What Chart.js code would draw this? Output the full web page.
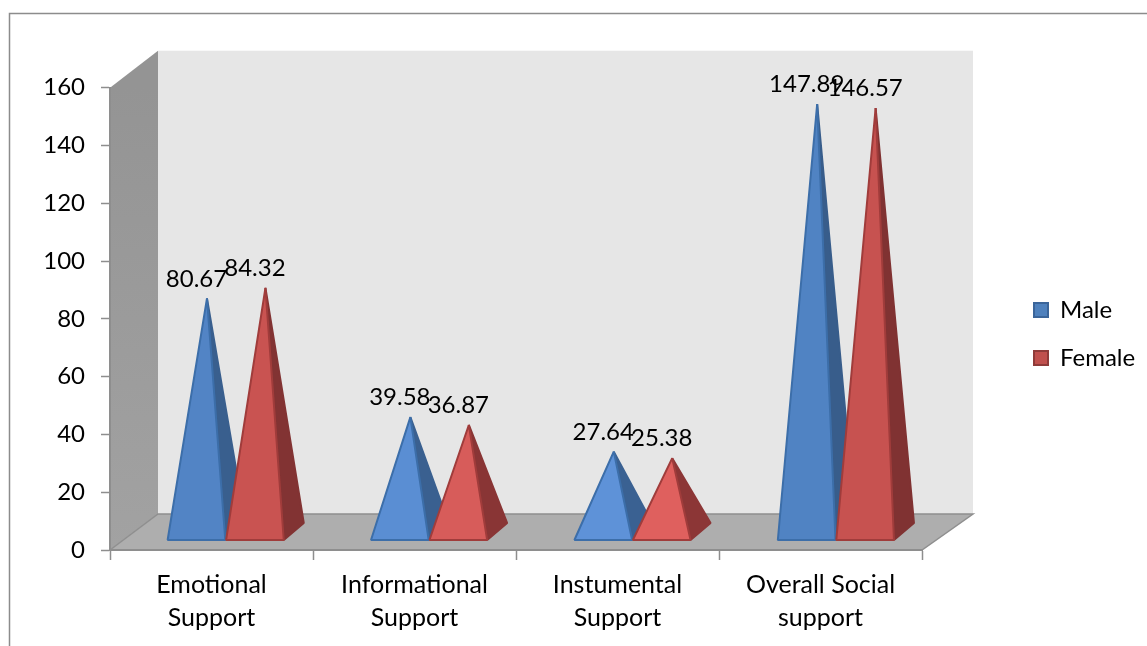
<!DOCTYPE html>
<html>
<head>
<meta charset="utf-8">
<title>Social support</title>
<script src="https://cdn.jsdelivr.net/npm/chart.js@4/dist/chart.umd.min.js"></script>
<style>
  html, body { margin: 0; background: #fff; }
  canvas { display: block; }
</style>
</head>
<body>
<canvas id="supportChart" width="1147" height="646"></canvas>
<script>
const categories = [
    ['Emotional', 'Support'],
    ['Informational', 'Support'],
    ['Instumental', 'Support'],
    ['Overall Social', 'support']
];
const maleValues = [80.67, 39.58, 27.64, 147.89];
const femaleValues = [84.32, 36.87, 25.38, 146.57];

// front face shade of each pyramid, short ones catch more light
const maleFaces = ['#5284c5', '#5a8ed3', '#5e92d8', '#5083c3'];
const femaleFaces = ['#c95351', '#d75c5a', '#df605e', '#c75250'];
const maleSides = ['#395f8e', '#3a6090', '#3a6192', '#385d8b'];
const femaleSides = ['#823333', '#893535', '#8c3636', '#803232'];

const labelFont = '24px Lato';

// walls, floor and the outer frame go behind the axes
function drawRoom(chart) {
    const { ctx, chartArea: a } = chart;
    const backLeft = a.left + 48;
    const backRight = a.right + 51;
    const backTop = a.top - 37;
    const backBottom = a.bottom - 36;

    ctx.save();
    ctx.strokeStyle = '#8c8c8c';
    ctx.lineWidth = 1.5;
    ctx.beginPath();
    ctx.moveTo(9.5, chart.height);
    ctx.lineTo(9.5, 13.5);
    ctx.lineTo(chart.width, 13.5);
    ctx.stroke();

    ctx.fillStyle = '#e6e6e6';
    ctx.fillRect(backLeft, backTop, backRight - backLeft, backBottom - backTop);

    const wall = ctx.createLinearGradient(0, a.top, 0, a.bottom);
    wall.addColorStop(0, '#949494');
    wall.addColorStop(1, '#a2a2a2');
    ctx.fillStyle = wall;
    ctx.beginPath();
    ctx.moveTo(a.left, a.top);
    ctx.lineTo(backLeft, backTop);
    ctx.lineTo(backLeft, backBottom);
    ctx.lineTo(a.left, a.bottom);
    ctx.closePath();
    ctx.fill();

    ctx.fillStyle = '#aeaeae';
    ctx.strokeStyle = '#8f8f8f';
    ctx.beginPath();
    ctx.moveTo(a.left, a.bottom);
    ctx.lineTo(backLeft, backBottom);
    ctx.lineTo(backRight, backBottom);
    ctx.lineTo(a.right, a.bottom);
    ctx.closePath();
    ctx.fill();
    ctx.stroke();
    ctx.restore();
}

function drawPyramid(ctx, bar, index, zeroY, face, side, edge) {
    const half = bar.width / 2 - 0.4;
    // groups drift slightly to the right with the room's perspective
    const cx = bar.x + 14.2 + index * 0.4;
    const baseY = zeroY - 10;
    const apexX = cx + 10.5;
    const apexY = baseY - 8.5 - (zeroY - bar.y);

    ctx.lineJoin = 'bevel';
    ctx.lineWidth = 2;
    ctx.strokeStyle = side;
    ctx.fillStyle = side;
    ctx.beginPath();
    ctx.moveTo(cx + half, baseY);
    ctx.lineTo(cx + half + 20, baseY - 17);
    ctx.lineTo(apexX, apexY);
    ctx.closePath();
    ctx.fill();
    ctx.stroke();

    ctx.strokeStyle = edge;
    ctx.fillStyle = face;
    ctx.beginPath();
    ctx.moveTo(cx - half, baseY);
    ctx.lineTo(cx + half, baseY);
    ctx.lineTo(apexX, apexY);
    ctx.closePath();
    ctx.fill();
    ctx.stroke();

    return { x: cx, y: apexY - 19.5 };
}

const pyramidPlugin = {
    id: 'pyramids',
    beforeDraw: drawRoom,
    afterLayout(chart) {
        // legend sits out to the right of the plot
        chart.legend.left = 1010;
        chart.legend.right = 1147;
        chart.legend.top = 274;
        chart.legend.bottom = 400;
    },
    // the bar elements only supply positions, the shapes are drawn below
    beforeDatasetDraw() {
        return false;
    },
    afterDatasetsDraw(chart) {
        const { ctx, scales } = chart;
        const zeroY = scales.y.getPixelForValue(0);
        const male = chart.getDatasetMeta(0).data;
        const female = chart.getDatasetMeta(1).data;
        const labels = [];

        ctx.save();
        categories.forEach((_, i) => {
            const a = drawPyramid(ctx, male[i], i, zeroY, maleFaces[i], maleSides[i], '#3c6ea9');
            labels.push({ at: a, text: maleValues[i].toFixed(2) });
            const b = drawPyramid(ctx, female[i], i, zeroY, femaleFaces[i], femaleSides[i], '#a03c3b');
            labels.push({ at: b, text: femaleValues[i].toFixed(2) });
        });

        ctx.font = labelFont;
        ctx.fillStyle = '#000';
        ctx.textAlign = 'center';
        ctx.textBaseline = 'middle';
        labels.forEach(l => ctx.fillText(l.text, l.at.x, l.at.y));
        ctx.restore();
    }
};

new Chart(document.getElementById('supportChart'), {
    type: 'bar',
    data: {
        labels: categories,
        datasets: [
            { label: 'Male', data: maleValues, backgroundColor: '#4f81bd', borderColor: '#3b659a', borderWidth: 2 },
            { label: 'Female', data: femaleValues, backgroundColor: '#c0504d', borderColor: '#8f3b39', borderWidth: 2 }
        ]
    },
    options: {
        responsive: false,
        animation: false,
        categoryPercentage: 0.576,
        barPercentage: 1,
        layout: { padding: { left: 0, right: 225, top: 87.7, bottom: 0 } },
        plugins: {
            tooltip: { enabled: false },
            legend: {
                position: 'chartArea',
                align: 'start',
                labels: {
                    color: '#000',
                    font: { family: 'Lato', size: 24 },
                    boxWidth: 14,
                    boxHeight: 14,
                    padding: 24
                }
            }
        },
        scales: {
            x: {
                afterFit(scale) { scale.height = 96; },
                border: { color: '#8e8e8e', width: 2 },
                grid: { drawOnChartArea: false, color: '#8e8e8e', tickLength: 10, tickWidth: 1.5 },
                ticks: {
                    color: '#000',
                    maxRotation: 0,
                    autoSkip: false,
                    padding: 8,
                    font: { family: 'Lato', size: 25, lineHeight: 1.32 }
                }
            },
            y: {
                min: 0,
                max: 160,
                afterFit(scale) { scale.width = 110; },
                border: { color: '#8e8e8e', width: 2 },
                grid: { drawOnChartArea: false, color: '#8e8e8e', tickLength: 9, tickWidth: 1.5 },
                ticks: {
                    stepSize: 20,
                    color: '#000',
                    padding: 16,
                    font: { family: 'Lato', size: 24 }
                }
            }
        }
    },
    plugins: [pyramidPlugin]
});
</script>
</body>
</html>
